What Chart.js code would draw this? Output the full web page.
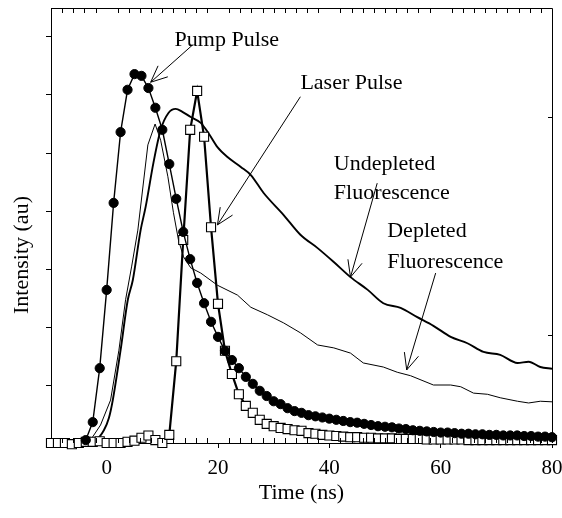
<!DOCTYPE html>
<html>
<head>
<meta charset="utf-8">
<script src="https://cdn.jsdelivr.net/npm/chart.js@4.4.1/dist/chart.umd.min.js"></script>
<style>
  html, body { margin: 0; padding: 0; background: #fff; }
</style>
</head>
<body>
<canvas id="chart" width="562" height="518"></canvas>
<script>
// time grid shared by the two marker series (ns)
const timeNs = [-10, -8.75, -7.5, -6.25, -5, -3.75, -2.5, -1.25, 0, 1.25, 2.5, 3.75, 5, 6.25, 7.5, 8.75,
  10, 11.25, 12.5, 13.75, 15, 16.25, 17.5, 18.75, 20, 21.25, 22.5, 23.75, 25, 26.25, 27.5, 28.75,
  30, 31.25, 32.5, 33.75, 35, 36.25, 37.5, 38.75, 40, 41.25, 42.5, 43.75, 45, 46.25, 47.5, 48.75,
  50, 51.25, 52.5, 53.75, 55, 56.25, 57.5, 58.75, 60, 61.25, 62.5, 63.75, 65, 66.25, 67.5, 68.75,
  70, 71.25, 72.5, 73.75, 75, 76.25, 77.5, 78.75, 80];

const pumpPulse = [null, null, null, null, null, 0.05, 0.36, 1.29, 2.64, 4.14, 5.36, 6.09, 6.36, 6.33, 6.12, 5.78,
  5.40, 4.81, 4.21, 3.64, 3.17, 2.76, 2.41, 2.09, 1.83, 1.59, 1.43, 1.29, 1.14, 1.02, 0.90, 0.81,
  0.72, 0.67, 0.60, 0.55, 0.52, 0.48, 0.46, 0.44, 0.42, 0.40, 0.38, 0.36, 0.35, 0.33, 0.31, 0.29,
  0.28, 0.27, 0.25, 0.24, 0.22, 0.21, 0.20, 0.19, 0.18, 0.18, 0.17, 0.16, 0.16, 0.15, 0.15, 0.14,
  0.14, 0.13, 0.13, 0.13, 0.12, 0.12, 0.11, 0.11, 0.10];

const laserPulse = [0.0, 0.0, 0.0, -0.02, 0.0, 0.02, 0.02, 0.03, 0.0, 0.0, 0.0, 0.02, 0.04, 0.09, 0.13, 0.05,
  0.0, 0.14, 1.41, 3.50, 5.40, 6.07, 5.28, 3.72, 2.40, 1.59, 1.19, 0.84, 0.64, 0.52, 0.40, 0.33,
  0.29, 0.26, 0.24, 0.22, 0.21, 0.17, 0.16, 0.14, 0.13, 0.12, 0.11, 0.10, 0.10, 0.09, 0.09, 0.08,
  0.08, 0.08, 0.07, 0.07, 0.07, 0.07, 0.06, 0.06, 0.06, 0.06, 0.06, 0.06, 0.05, 0.05, 0.05, 0.05,
  0.05, 0.05, 0.05, 0.05, 0.05, 0.05, 0.05, 0.05, 0.05];

const undepletedTime = [-7.0, -3.8, -2.0, -0.5, 0.4, 1.1, 2.5, 3.8, 4.7, 6.1, 7.0, 8.4, 9.7, 11.1, 12.4, 13.6,
  15.1, 16.9, 18.3, 19.9, 21.7, 24.1, 25.9, 28.2, 31.8, 34.8, 37.9, 40.8, 43.8, 46.9, 49.7, 52.8,
  55.8, 58.7, 61.8, 64.8, 67.7, 70.7, 73.8, 75.8, 77.9, 80.0];
const undepleted = [0.0, 0.02, 0.05, 0.22, 0.43, 0.74, 1.60, 2.47, 2.81, 3.67, 4.07, 4.83, 5.40, 5.69, 5.76, 5.71,
  5.62, 5.52, 5.34, 5.10, 4.93, 4.76, 4.62, 4.31, 3.93, 3.59, 3.36, 3.12, 2.86, 2.64, 2.41, 2.33,
  2.17, 2.02, 1.83, 1.72, 1.57, 1.52, 1.38, 1.40, 1.31, 1.28];

const depletedTime = [-7.0, -3.8, -2.9, -1.1, 0.7, 2.2, 3.4, 4.5, 5.6, 7.4, 8.7, 9.7, 11.0, 12.0, 12.9, 13.8,
  15.1, 16.9, 19.9, 23.5, 25.9, 28.9, 31.8, 34.8, 37.9, 40.8, 43.8, 46.1, 49.7, 52.2, 54.6, 58.7,
  61.8, 63.6, 65.9, 68.4, 70.7, 73.8, 75.8, 77.9, 80.0];
const depleted = [0.0, 0.02, 0.05, 0.31, 0.74, 1.60, 2.47, 3.05, 3.67, 5.14, 5.50, 5.22, 4.59, 3.97, 3.50, 3.21,
  3.02, 2.93, 2.72, 2.55, 2.34, 2.21, 2.07, 1.90, 1.69, 1.64, 1.55, 1.38, 1.31, 1.22, 1.16, 1.00,
  1.00, 0.97, 0.86, 0.84, 0.78, 0.72, 0.69, 0.72, 0.71];

const xTickValues = [0, 20, 40, 60, 80];
const yTickValues = [0, 1, 2, 3, 4, 5, 6, 7];

const serif = "'Liberation Serif', 'Times New Roman', serif";

// labels and arrows, placed in data units
const notes = [
  { lines: [["Pump Pulse", 12.2, 6.95]], from: [15.4, 6.86], to: [7.9, 6.22] },
  { lines: [["Laser Pulse", 34.8, 6.21]], from: [34.8, 5.97], to: [19.9, 3.76] },
  { lines: [["Undepleted", 40.8, 4.81], ["Fluorescence", 40.8, 4.31]], from: [48.6, 4.48], to: [43.8, 2.86] },
  { lines: [["Depleted", 50.4, 3.66], ["Fluorescence", 50.4, 3.12]], from: [59.1, 2.93], to: [53.9, 1.26] }
];

function toPoints(xs, ys) {
  return xs.map((t, i) => ({ x: t, y: ys[i] }));
}

function drawArrow(ctx, x1, y1, x2, y2) {
  const ang = Math.atan2(y2 - y1, x2 - x1);
  const len = 18, spread = 0.42;
  ctx.moveTo(x1, y1);
  ctx.lineTo(x2, y2);
  ctx.moveTo(x2, y2);
  ctx.lineTo(x2 - len * Math.cos(ang - spread), y2 - len * Math.sin(ang - spread));
  ctx.moveTo(x2, y2);
  ctx.lineTo(x2 - len * Math.cos(ang + spread), y2 - len * Math.sin(ang + spread));
}

const decorations = {
  id: 'decorations',
  afterDraw(chart) {
    const { ctx, chartArea: a, scales: { x, y } } = chart;
    ctx.save();
    ctx.strokeStyle = '#000';
    ctx.lineWidth = 1;
    ctx.beginPath();
    // top and right of the frame
    ctx.moveTo(a.left, a.top + 0.5);
    ctx.lineTo(a.right + 0.5, a.top + 0.5);
    ctx.lineTo(a.right + 0.5, a.bottom);
    // minor ticks, inward
    for (let v = -8; v < 80; v += 2) {
      if (v % 20 === 0) continue;
      const px = Math.round(x.getPixelForValue(v)) + 0.5;
      ctx.moveTo(px, a.bottom);
      ctx.lineTo(px, a.bottom - 5);
      ctx.moveTo(px, a.top);
      ctx.lineTo(px, a.top + 5);
    }
    [5.62, 1.86].forEach(v => {
      const py = Math.round(y.getPixelForValue(v)) + 0.5;
      ctx.moveTo(a.right, py);
      ctx.lineTo(a.right - 4, py);
    });
    // annotation arrows
    notes.forEach(n => {
      drawArrow(ctx, x.getPixelForValue(n.from[0]), y.getPixelForValue(n.from[1]),
        x.getPixelForValue(n.to[0]), y.getPixelForValue(n.to[1]));
    });
    ctx.stroke();

    ctx.fillStyle = '#000';
    ctx.font = '22px ' + serif;
    ctx.textAlign = 'left';
    ctx.textBaseline = 'middle';
    notes.forEach(n => {
      n.lines.forEach(([txt, tx, ty]) => {
        ctx.fillText(txt, x.getPixelForValue(tx), y.getPixelForValue(ty));
      });
    });

    // y axis title
    ctx.font = '22px ' + serif;
    ctx.textAlign = 'center';
    ctx.translate(a.left - 29, a.bottom - 188);
    ctx.rotate(-Math.PI / 2);
    ctx.fillText('Intensity (au)', 0, 0);
    ctx.restore();
  }
};

new Chart(document.getElementById('chart'), {
  type: 'line',
  data: {
    datasets: [
      {
        label: 'Pump Pulse',
        data: toPoints(timeNs, pumpPulse),
        borderColor: '#000',
        borderWidth: 1.4,
        pointStyle: 'circle',
        pointRadius: 4.6,
        pointBackgroundColor: '#000',
        pointBorderColor: '#000',
        pointBorderWidth: 1,
        tension: 0,
        spanGaps: false,
        clip: false
      },
      {
        label: 'Laser Pulse',
        data: toPoints(timeNs, laserPulse),
        borderColor: '#000',
        borderWidth: 2.2,
        pointStyle: 'rect',
        pointRadius: 6.4,
        pointBackgroundColor: '#fff',
        pointBorderColor: '#000',
        pointBorderWidth: 1.1,
        tension: 0,
        clip: false
      },
      {
        label: 'Undepleted Fluorescence',
        data: toPoints(undepletedTime, undepleted),
        borderColor: '#000',
        borderWidth: 1.9,
        pointRadius: 0,
        cubicInterpolationMode: 'monotone'
      },
      {
        label: 'Depleted Fluorescence',
        data: toPoints(depletedTime, depleted),
        borderColor: '#000',
        borderWidth: 1,
        pointRadius: 0,
        tension: 0
      }
    ]
  },
  options: {
    responsive: false,
    animation: false,
    layout: { padding: { top: 8, right: 0, left: 0, bottom: 0 } },
    plugins: {
      legend: { display: false },
      tooltip: { enabled: false }
    },
    scales: {
      x: {
        type: 'linear',
        min: -10,
        max: 80,
        afterBuildTicks: s => { s.ticks = xTickValues.map(v => ({ value: v })); },
        afterFit: s => { s.height = 75; s.paddingLeft = 0; s.paddingRight = 10; },
        grid: { drawOnChartArea: false, tickLength: 5, color: '#000', lineWidth: 1 },
        border: { color: '#000', width: 1 },
        ticks: { color: '#000', font: { family: serif, size: 21 }, padding: 8, maxRotation: 0 },
        title: {
          display: true, text: 'Time (ns)', color: '#000',
          font: { family: serif, size: 22 }, padding: { top: 0, bottom: 12 }
        }
      },
      y: {
        min: 0,
        max: 7.5,
        afterBuildTicks: s => { s.ticks = yTickValues.map(v => ({ value: v })); },
        afterFit: s => { s.width = 51; s.paddingTop = 0; s.paddingBottom = 0; },
        grid: { drawOnChartArea: false, tickLength: 5, color: '#000', lineWidth: 1 },
        border: { color: '#000', width: 1 },
        ticks: { display: false }
      }
    }
  },
  plugins: [decorations]
});
</script>
</body>
</html>
